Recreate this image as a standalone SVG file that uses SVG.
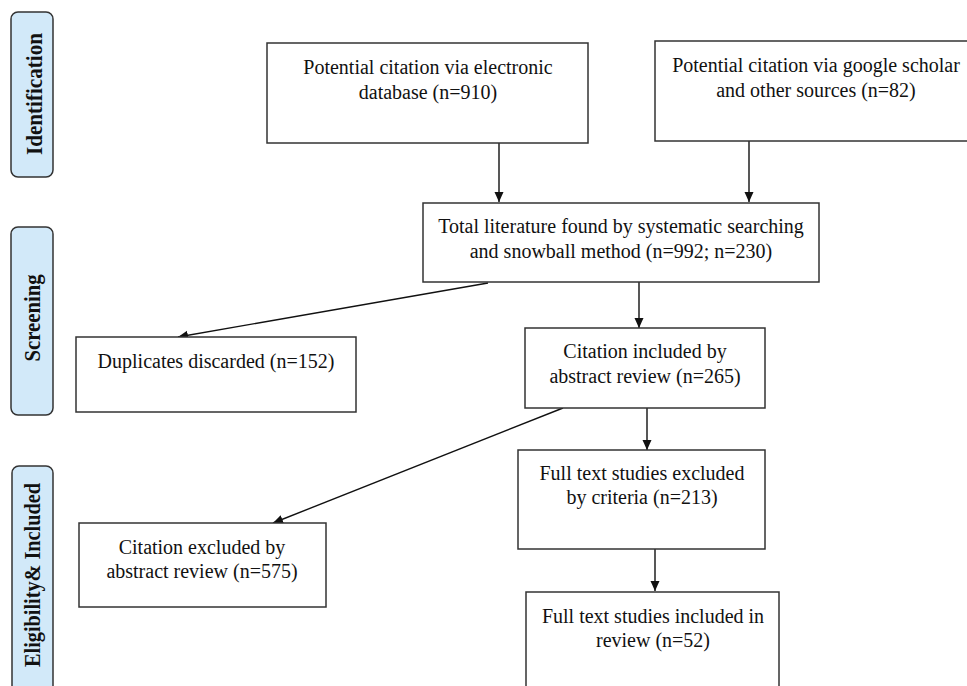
<svg xmlns="http://www.w3.org/2000/svg" width="967" height="686" viewBox="0 0 967 686">
<style>
.box{fill:#fff;stroke:#333;stroke-width:1.5}
.side{fill:#d2e9f9;stroke:#333;stroke-width:1.5}
.t{font-family:"Liberation Serif","Times New Roman",serif;font-size:20px;fill:#111;text-anchor:middle}
.st{font-family:"Liberation Serif","Times New Roman",serif;font-size:23px;font-weight:bold;fill:#111;text-anchor:middle}
.c{stroke:#111;stroke-width:1.4;fill:none;marker-end:url(#ah)}
</style>
<defs>
<marker id="ah" markerUnits="userSpaceOnUse" markerWidth="11" markerHeight="10" refX="10" refY="4.5" orient="auto">
<path d="M0,0 L10,4.5 L0,9 z" fill="#111"/>
</marker>
</defs>
<rect width="967" height="686" fill="#fff"/>
<g id="stage-identification">
<rect class="side" x="11" y="12" width="42" height="165" rx="7"/>
<text class="st" transform="translate(41.5,94) rotate(-90)" textLength="122" lengthAdjust="spacingAndGlyphs">Identification</text>
</g>
<g id="stage-screening">
<rect class="side" x="11" y="227" width="42" height="188" rx="7"/>
<text class="st" transform="translate(40,318) rotate(-90)" textLength="87" lengthAdjust="spacingAndGlyphs">Screening</text>
</g>
<g id="stage-eligibility">
<rect class="side" x="12" y="466" width="41" height="240" rx="7"/>
<text class="st" transform="translate(40,575) rotate(-90)" textLength="184" lengthAdjust="spacingAndGlyphs">Eligibility&amp; Included</text>
</g>
<g id="connectors">
<line class="c" x1="499" y1="143" x2="499" y2="202"/>
<line class="c" x1="749" y1="141" x2="749" y2="202"/>
<line class="c" x1="639" y1="282" x2="639" y2="328"/>
<line class="c" x1="488" y1="283" x2="178" y2="337"/>
<line class="c" x1="647" y1="404" x2="647" y2="450"/>
<line class="c" x1="563" y1="408" x2="273" y2="523"/>
<line class="c" x1="655" y1="546" x2="655" y2="591"/>
</g>
<g id="node-electronic">
<rect class="box" x="267" y="43" width="321" height="100"/>
<text class="t" x="428" y="74">Potential citation via electronic</text>
<text class="t" x="428" y="99">database (n=910)</text>
</g>
<g id="node-google">
<rect class="box" x="655" y="41" width="322" height="100"/>
<text class="t" x="816" y="72">Potential citation via google scholar</text>
<text class="t" x="816" y="97">and other sources (n=82)</text>
</g>
<g id="node-total">
<rect class="box" x="423" y="203" width="396" height="79"/>
<text class="t" x="621" y="233">Total literature found by systematic searching</text>
<text class="t" x="621" y="258">and snowball method (n=992; n=230)</text>
</g>
<g id="node-duplicates">
<rect class="box" x="76" y="337" width="280" height="75"/>
<text class="t" x="216" y="368">Duplicates discarded (n=152)</text>
</g>
<g id="node-included-abstract">
<rect class="box" x="525" y="328" width="240" height="80"/>
<text class="t" x="645" y="358">Citation included by</text>
<text class="t" x="645" y="383">abstract review (n=265)</text>
</g>
<g id="node-excluded-abstract">
<rect class="box" x="79" y="523" width="247" height="84"/>
<text class="t" x="202" y="554">Citation excluded by</text>
<text class="t" x="202" y="578">abstract review (n=575)</text>
</g>
<g id="node-fulltext-excluded">
<rect class="box" x="518" y="450" width="247" height="99"/>
<text class="t" x="642" y="480">Full text studies excluded</text>
<text class="t" x="642" y="504">by criteria (n=213)</text>
</g>
<g id="node-fulltext-included">
<rect class="box" x="526" y="592" width="253" height="110"/>
<text class="t" x="653" y="623">Full text studies included in</text>
<text class="t" x="653" y="647">review (n=52)</text>
</g>
</svg>
